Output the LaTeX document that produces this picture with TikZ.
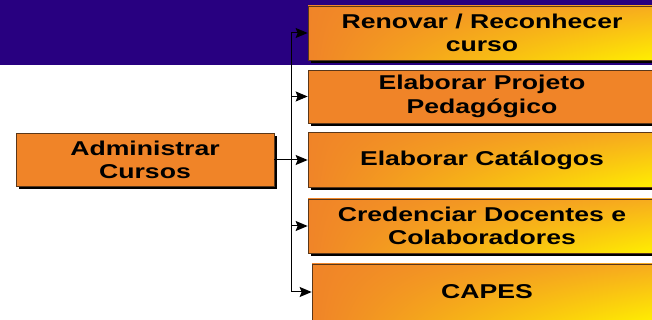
\documentclass[tikz,border=0pt]{standalone}
\usepackage{fontspec}
\setmainfont{Liberation Sans}[FakeStretch=1.33]
\usetikzlibrary{arrows.meta,shadows,shadings}
\definecolor{bandc}{RGB}{40,0,128}
\definecolor{orgc}{RGB}{240,132,40}
\definecolor{orgyc}{RGB}{247,172,30}
\definecolor{yelc}{RGB}{255,240,0}
\definecolor{edgec}{RGB}{90,55,25}
\begin{document}
\begin{tikzpicture}[x=1pt,y=1pt,
  boxbase/.style={draw=edgec, line width=0.7pt, inner sep=0pt, align=center,
    font=\fontsize{20}{23.3}\selectfont\bfseries, text=black,
    drop shadow={fill=black, opacity=1, shadow xshift=3pt, shadow yshift=-3pt}},
  flatbox/.style={boxbase, fill=orgc},
  gradbox/.style={boxbase, lower left=orgc, upper left=orgc, upper right=orgyc, lower right=yelc},
  conn/.style={line width=1pt, draw=black},
  arr/.style={conn, -{Stealth[length=12pt,width=10pt,inset=2pt]}}]
\useasboundingbox (0,0) rectangle (652,320);
\clip (0,0) rectangle (652,320);
\fill[bandc] (0,255) rectangle (652,320);

\node[flatbox, minimum width=258pt, minimum height=53pt] (main) at (145,160) {Administrar\\Cursos};

\node[gradbox, minimum width=348pt, minimum height=54pt] (c1) at (482,287) {Renovar / Reconhecer\\curso};
\node[flatbox, minimum width=348pt, minimum height=53pt] (c2) at (482,223.5) {Elaborar Projeto\\Pedagógico};
\node[gradbox, minimum width=348pt, minimum height=55pt] (c3) at (482,160) {Elaborar Catálogos};
\node[gradbox, minimum width=348pt, minimum height=54pt] (c4) at (482,94) {Credenciar Docentes e\\Colaboradores};
\node[gradbox, minimum width=350pt, minimum height=56pt] (c5) at (487,28) {CAPES};

\coordinate (bus) at (291,0);
\draw[arr] (bus |- c5.west) |- (c1.west);
\draw[arr] (bus |- c2.west) -- (c2.west);
\draw[arr] (main.east) -- (c3.west);
\draw[arr] (bus |- c4.west) -- (c4.west);
\draw[arr] (bus |- c5.west) -- (c5.west);
\end{tikzpicture}
\end{document}
